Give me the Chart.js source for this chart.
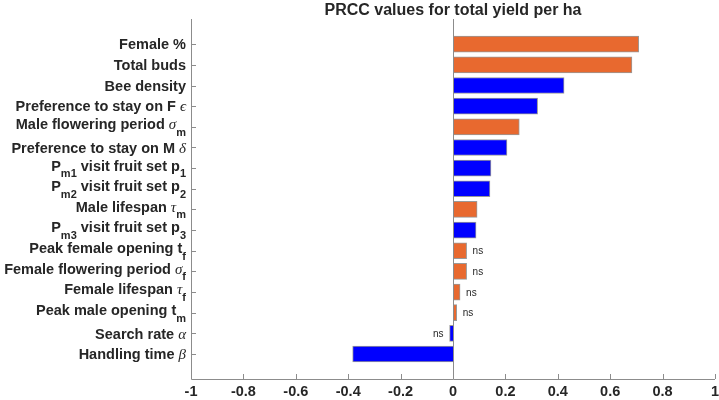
<!DOCTYPE html>
<html>
<head>
<meta charset="utf-8">
<script src="https://cdn.jsdelivr.net/npm/chart.js@4/dist/chart.umd.min.js"></script>
<style>
  body { margin: 0; background: #fff; }
  canvas { display: block; }
</style>
</head>
<body>
<canvas id="prccChart" width="719" height="400"></canvas>
<script>
// labels: $..$ = greek (italic serif), _{..} = subscript
const categories = [
    'Female %',
    'Total buds',
    'Bee density',
    'Preference to stay on F $ϵ$',
    'Male flowering period $σ$_{m}',
    'Preference to stay on M $δ$',
    'P_{m1} visit fruit set p_{1}',
    'P_{m2} visit fruit set p_{2}',
    'Male lifespan $τ$_{m}',
    'P_{m3} visit fruit set p_{3}',
    'Peak female opening t_{f}',
    'Female flowering period $σ$_{f}',
    'Female lifespan $τ$_{f}',
    'Peak male opening t_{m}',
    'Search rate $α$',
    'Handling time $β$'
];
const prcc = [0.709, 0.683, 0.424, 0.323, 0.253, 0.206, 0.145, 0.141,
              0.092, 0.088, 0.052, 0.052, 0.027, 0.014, -0.013, -0.383];
const group = ['plant', 'plant', 'bee', 'bee', 'plant', 'bee', 'bee', 'bee',
               'plant', 'bee', 'plant', 'plant', 'plant', 'plant', 'bee', 'bee'];
const notSignificant = [false, false, false, false, false, false, false, false,
                        false, false, true, true, true, true, true, false];
const xTicks = [-1, -0.8, -0.6, -0.4, -0.2, 0, 0.2, 0.4, 0.6, 0.8, 1];
const title = 'PRCC values for total yield per ha';

const groupColors = { plant: '#E8692F', bee: '#0000FF' };
const textColor = '#262626';
const axisColor = '#8c8c8c';
const mainFont = '"Liberation Sans", Arial, sans-serif';
const greekFont = '"Liberation Serif", "DejaVu Serif", serif';

function parseLabel(str) {
    return str.split(/(\$[^$]+\$|_\{[^}]+\})/).filter(Boolean).map(p => {
        if (p[0] === '$') return { text: p.slice(1, -1), font: 'italic 15px ' + greekFont, dy: 0 };
        if (p[0] === '_') return { text: p.slice(2, -1), font: 'bold 11px ' + mainFont, dy: 6.5 };
        return { text: p, font: 'bold 14.5px ' + mainFont, dy: 0 };
    });
}

function drawLabel(ctx, str, xRight, yTick) {
    const parts = parseLabel(str);
    const hasSub = parts.some(p => p.dy > 0);
    const base = yTick + (hasSub ? 3.2 : 6);
    let total = 0;
    parts.forEach(p => { ctx.font = p.font; p.w = ctx.measureText(p.text).width; total += p.w; });
    let x = xRight - total;
    ctx.textAlign = 'left';
    ctx.textBaseline = 'alphabetic';
    parts.forEach(p => {
        ctx.font = p.font;
        ctx.fillText(p.text, x, base + p.dy);
        x += p.w;
    });
}

const decorations = {
    id: 'decorations',
    afterDatasetsDraw: (chart) => {
        const ctx = chart.ctx;
        const area = chart.chartArea;
        const xs = chart.scales.x;
        const ys = chart.scales.y;
        ctx.save();
        ctx.strokeStyle = axisColor;
        ctx.lineWidth = 1;
        ctx.beginPath();
        // axis lines
        ctx.moveTo(Math.round(area.left) + 0.5, area.top);
        ctx.lineTo(Math.round(area.left) + 0.5, Math.round(area.bottom) + 0.5);
        ctx.lineTo(area.right, Math.round(area.bottom) + 0.5);
        // zero baseline
        const x0 = Math.round(xs.getPixelForValue(0)) + 0.5;
        ctx.moveTo(x0, area.top);
        ctx.lineTo(x0, area.bottom);
        // inward ticks
        xTicks.forEach(v => {
            const px = Math.round(xs.getPixelForValue(v)) + 0.5;
            ctx.moveTo(px, area.bottom);
            ctx.lineTo(px, area.bottom - 5);
        });
        categories.forEach((c, i) => {
            const py = Math.round(ys.getPixelForValue(i)) + 0.5;
            ctx.moveTo(area.left, py);
            ctx.lineTo(area.left + 5, py);
        });
        ctx.stroke();

        // category labels
        ctx.fillStyle = textColor;
        categories.forEach((c, i) => {
            drawLabel(ctx, c, area.left - 5, ys.getPixelForValue(i) - 0.8);
        });

        // ns marks
        ctx.font = '10px ' + mainFont;
        ctx.textBaseline = 'middle';
        prcc.forEach((v, i) => {
            if (!notSignificant[i]) return;
            const py = ys.getPixelForValue(i) + 1;
            const px = xs.getPixelForValue(v);
            if (v >= 0) {
                ctx.textAlign = 'left';
                ctx.fillText('ns', px + 6, py);
            } else {
                ctx.textAlign = 'right';
                ctx.fillText('ns', px - 6, py);
            }
        });

        // title
        ctx.font = 'bold 16px ' + mainFont;
        ctx.textAlign = 'center';
        ctx.textBaseline = 'middle';
        ctx.fillText(title, (area.left + area.right) / 2, 11);
        ctx.restore();
    }
};

const config = {
    type: 'bar',
    data: {
        datasets: [{
            data: prcc.map((v, i) => ({ x: v, y: i })),
            backgroundColor: group.map(g => groupColors[g]),
            borderColor: 'rgba(70, 70, 70, 0.55)',
            borderWidth: 1,
            borderSkipped: 'start',
            barThickness: 16
        }]
    },
    plugins: [decorations],
    options: {
        indexAxis: 'y',
        responsive: false,
        animation: false,
        layout: { padding: { left: 191, top: 19, right: 4, bottom: 0 } },
        plugins: {
            legend: { display: false },
            tooltip: { enabled: false }
        },
        scales: {
            x: {
                type: 'linear',
                min: -1,
                max: 1,
                afterBuildTicks: (scale) => { scale.ticks = xTicks.map(v => ({ value: v })); },
                afterFit: (scale) => {
                    scale.height = 21;
                    scale.paddingLeft = 0;
                    scale.paddingRight = 0;
                },
                ticks: {
                    callback: (v) => String(+Number(v).toFixed(1)),
                    font: { family: mainFont, size: 14.5, weight: 'bold' },
                    color: textColor,
                    padding: 4,
                    maxRotation: 0,
                    autoSkip: false
                },
                grid: { display: false, drawTicks: false, tickLength: 0 },
                border: { display: false }
            },
            y: {
                type: 'linear',
                display: false,
                offset: false,
                reverse: true,
                min: -1.22,
                max: 16.21
            }
        }
    }
};

new Chart(document.getElementById('prccChart'), config);
</script>
</body>
</html>
